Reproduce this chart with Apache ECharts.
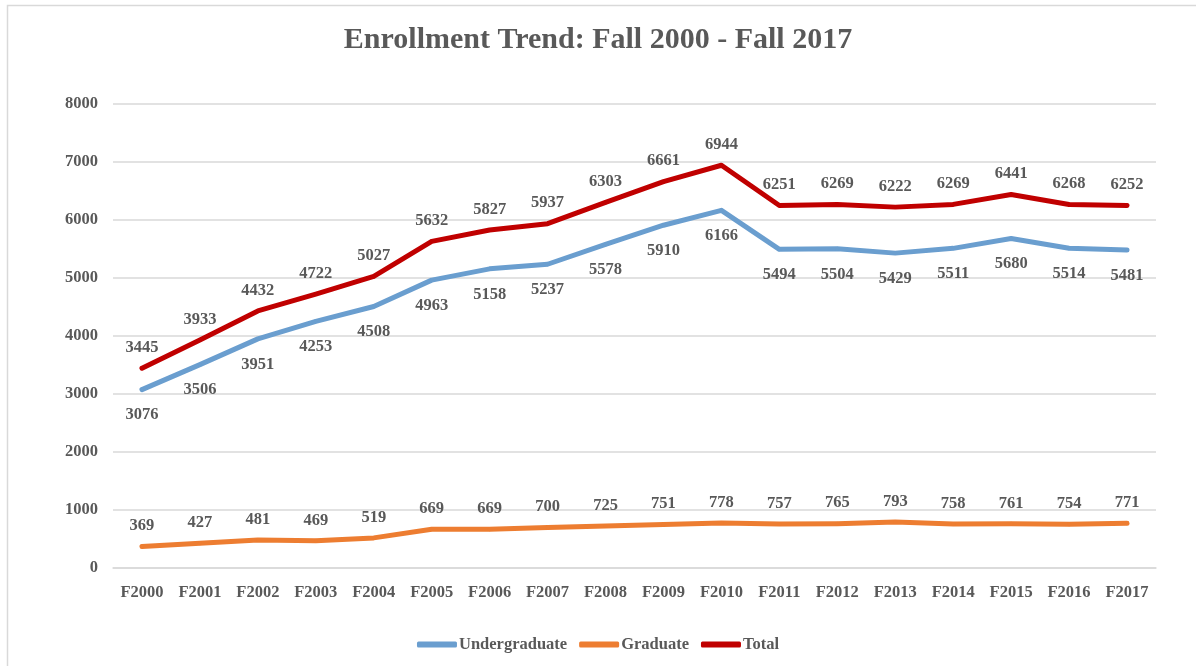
<!DOCTYPE html>
<html>
<head>
<meta charset="utf-8">
<script src="https://cdn.jsdelivr.net/npm/echarts@6/dist/echarts.min.js"></script>
<style>html,body{margin:0;padding:0;background:#fff}#c{width:1196px;height:666px}</style>
</head>
<body>
<div id="c"></div>
<script>
const categories = ['F2000','F2001','F2002','F2003','F2004','F2005','F2006','F2007','F2008','F2009','F2010','F2011','F2012','F2013','F2014','F2015','F2016','F2017'];
const undergraduate = [3076,3506,3951,4253,4508,4963,5158,5237,5578,5910,6166,5494,5504,5429,5511,5680,5514,5481];
const graduate = [369,427,481,469,519,669,669,700,725,751,778,757,765,793,758,761,754,771];
const total = [3445,3933,4432,4722,5027,5632,5827,5937,6303,6661,6944,6251,6269,6222,6269,6441,6268,6252];
const yTicks = {min:0, max:8000, interval:1000};

const font = '"Liberation Serif", "Times New Roman", serif';
const txt = '#595959';
const chart = echarts.init(document.getElementById('c'));
function lineSeries(name, data, color, pos){
  return {
    name, type:'line', data,
    symbol:'circle', symbolSize:4, showSymbol:true, smooth:false,
    lineStyle:{width:5, color, cap:'round', join:'round'},
    itemStyle:{color},
    label:{show:true, position:pos, distance:pos==='bottom'?15:10, color:txt, fontFamily:font, fontWeight:'bold', fontSize:16.5},
    labelLayout:{hideOverlap:false},
    emphasis:{disabled:true}
  };
}
chart.setOption({
  animation:false,
  backgroundColor:'#fff',
  graphic:[{type:'rect', shape:{x:7.5,y:5.5,width:1300,height:800}, style:{fill:'none', stroke:'#d9d9d9', lineWidth:1.5}, silent:true}],
  title:{text:'Enrollment Trend: Fall 2000 - Fall 2017', left:'center', top:20,
    textStyle:{fontFamily:font, fontWeight:'bold', fontSize:30, color:txt}},
  legend:{bottom:8, left:'center', itemWidth:40, itemHeight:6, itemGap:12, icon:'roundRect',
    textStyle:{fontFamily:font, fontWeight:'bold', fontSize:16.5, color:txt, padding:[0,0,0,-3]},
    data:['Undergraduate','Graduate','Total']},
  grid:{left:113, right:40, top:104, bottom:98, containLabel:false},
  xAxis:{type:'category', data:categories, boundaryGap:true,
    axisLine:{show:true, lineStyle:{color:'#d9d9d9', width:1.5}}, axisTick:{show:false},
    axisLabel:{fontFamily:font, fontWeight:'bold', fontSize:16.5, color:txt, margin:16}},
  yAxis:{type:'value', min:yTicks.min, max:yTicks.max, interval:yTicks.interval,
    axisLine:{show:false}, axisTick:{show:false},
    splitLine:{lineStyle:{color:'#d9d9d9', width:1.5}},
    axisLabel:{fontFamily:font, fontWeight:'bold', fontSize:16.5, color:txt, margin:15, formatter:v=>String(v)}},
  series:[
    lineSeries('Undergraduate', undergraduate, '#6A9ECF', 'bottom'),
    lineSeries('Graduate', graduate, '#ED7D31', 'top'),
    lineSeries('Total', total, '#C00000', 'top')
  ]
});
</script>
</body>
</html>
